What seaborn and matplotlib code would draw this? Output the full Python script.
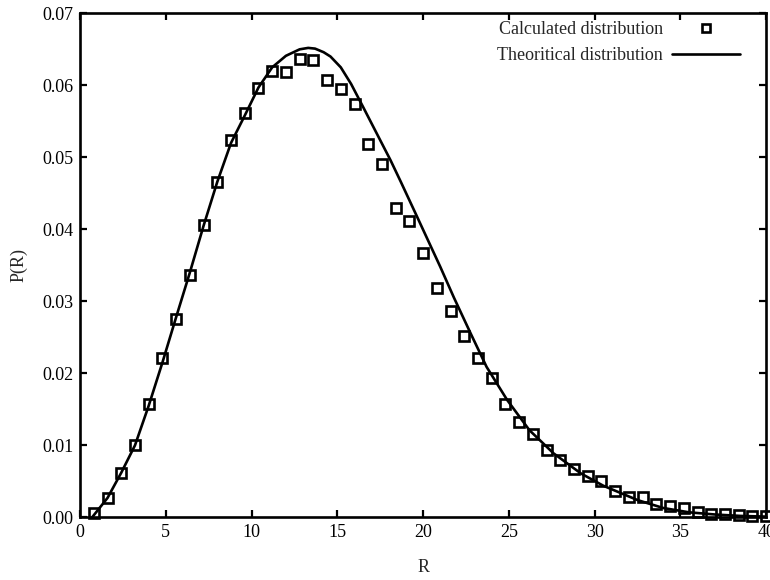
import pandas as pd
import matplotlib
matplotlib.use("Agg")
import matplotlib.pyplot as plt
from matplotlib.lines import Line2D
import seaborn as sns

# calculated distribution (squares)
r_calc = [0.8, 1.6, 2.4, 3.2, 4.0, 4.8, 5.6, 6.4, 7.2, 8.0,
          8.8, 9.6, 10.4, 11.2, 12.0, 12.8, 13.6, 14.4, 15.2, 16.0,
          16.8, 17.6, 18.4, 19.2, 20.0, 20.8, 21.6, 22.4, 23.2, 24.0,
          24.8, 25.6, 26.4, 27.2, 28.0, 28.8, 29.6, 30.4, 31.2, 32.0,
          32.8, 33.6, 34.4, 35.2, 36.0, 36.8, 37.6, 38.4, 39.2, 40.0]
p_calc = [0.0006, 0.0027, 0.0062, 0.0100, 0.0158, 0.0222, 0.0276, 0.0337, 0.0406, 0.0466,
          0.0524, 0.0561, 0.0597, 0.0620, 0.0619, 0.0636, 0.0635, 0.0607, 0.0595, 0.0574,
          0.0519, 0.0491, 0.0430, 0.0412, 0.0367, 0.0319, 0.0286, 0.0252, 0.0221, 0.0194,
          0.0158, 0.0133, 0.0116, 0.0094, 0.0079, 0.0067, 0.0058, 0.0050, 0.0037, 0.0028,
          0.0028, 0.0019, 0.0016, 0.0013, 0.0008, 0.0005, 0.0005, 0.0003, 0.0002, 0.0002]

# theoretical distribution (solid line)
r_theo = [0.7, 1.6, 2.4, 3.2, 4.0, 4.8, 5.6, 6.4, 7.2, 8.0,
          8.8, 9.6, 10.4, 11.2, 12.0, 12.8, 13.3, 13.7, 14.2, 14.6,
          15.2, 15.8, 16.5, 17.3, 18.1, 18.7, 19.6, 21.0, 21.8, 22.8,
          23.7, 24.9, 26.2, 27.6, 29.2, 30.5, 31.3, 32.5, 34.0, 35.5,
          37.0, 38.5, 40.0]
p_theo = [0.0000, 0.0027, 0.0062, 0.0100, 0.0155, 0.0215, 0.0278, 0.0340, 0.0405, 0.0466,
          0.0520, 0.0558, 0.0597, 0.0625, 0.0641, 0.0650, 0.0652, 0.0651, 0.0646, 0.0640,
          0.0625, 0.0602, 0.0570, 0.0533, 0.0496, 0.0466, 0.0420, 0.0348, 0.0305, 0.0254,
          0.0209, 0.0163, 0.0121, 0.0089, 0.0061, 0.0044, 0.0036, 0.0024, 0.0013, 0.0007,
          0.0004, 0.0002, 0.0001]

x_ticks = [0, 5, 10, 15, 20, 25, 30, 35, 40]
y_ticks = [0.00, 0.01, 0.02, 0.03, 0.04, 0.05, 0.06, 0.07]

calc = pd.DataFrame({"R": r_calc, "P": p_calc})
theo = pd.DataFrame({"R": r_theo, "P": p_theo})

sns.set_style("ticks")
plt.rcParams["font.family"] = ["Liberation Serif", "DejaVu Serif"]
plt.rcParams["font.size"] = 13

fig = plt.figure(figsize=(7.7, 5.8), dpi=100)
ax = fig.add_axes([0.104, 0.108, 0.891, 0.869])

sns.lineplot(data=theo, x="R", y="P", ax=ax, color="black", linewidth=1.9)
ax.plot(calc["R"], calc["P"], linestyle="none", marker="s", markersize=7,
        markerfacecolor="none", markeredgecolor="black", markeredgewidth=1.9,
        clip_on=False)

ax.set_xlim(0, 40)
ax.set_ylim(0, 0.07)
ax.set_xticks(x_ticks)
ax.set_yticks(y_ticks)
ax.set_yticklabels([f"{v:.2f}" for v in y_ticks])
ax.tick_params(direction="in", length=5, width=1.6, top=True, right=True,
               labelsize=13, pad=5, color="black", labelcolor="black")
for s in ax.spines.values():
    s.set_linewidth(1.9)
    s.set_color("black")

ax.set_xlabel("R", fontsize=13, labelpad=13)
ax.set_ylabel("P(R)", fontsize=13, labelpad=10)

handles = [
    Line2D([], [], linestyle="none", marker="s", markersize=6,
           markerfacecolor="none", markeredgecolor="black", markeredgewidth=1.9),
    Line2D([], [], color="black", linewidth=1.9),
]
ax.legend(handles, ["Calculated distribution", "Theoritical distribution"],
          loc="upper right", bbox_to_anchor=(0.962, 0.984), frameon=False,
          markerfirst=False, handlelength=3.77, handletextpad=0.5,
          labelspacing=0.5, borderpad=0, borderaxespad=0, fontsize=13)

fig.savefig("out.png", dpi=100)
